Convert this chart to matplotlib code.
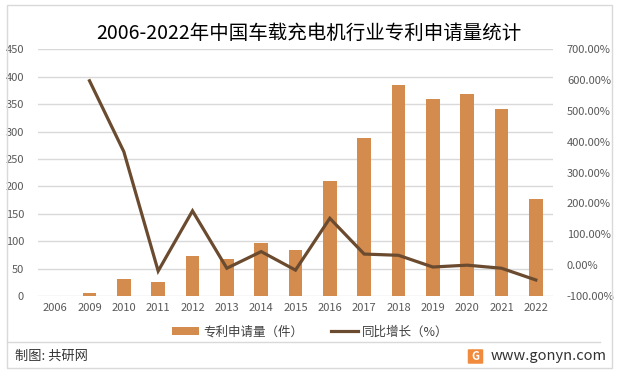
import matplotlib
matplotlib.use("Agg")
import matplotlib.pyplot as plt
from matplotlib.patches import Rectangle, Patch, FancyBboxPatch
from matplotlib.lines import Line2D
from matplotlib.ticker import FuncFormatter, MultipleLocator

plt.rcParams['font.family'] = ['Noto Sans CJK SC', 'DejaVu Sans']

years = ["2006", "2009", "2010", "2011", "2012", "2013", "2014", "2015",
         "2016", "2017", "2018", "2019", "2020", "2021", "2022"]
patents = [0, 6, 31, 26, 73, 68, 97, 83, 210, 288, 385, 360, 369, 341, 177]
growth_years = years[1:]
growth = [598, 368, -19, 176, -10, 44, -16, 152, 36, 32, -6, 0, -10, -48]

title = "2006-2022年中国车载充电机行业专利申请量统计"
bar_label = "专利申请量（件）"
line_label = "同比增长（%）"
source = "制图: 共研网"
site = "www.gonyn.com"

W, H = 617, 374
fig = plt.figure(figsize=(W / 100, H / 100), dpi=100)
fig.patch.set_facecolor("white")

def fx(px):
    return px / W

def fy(py):
    return 1 - py / H

bar_color = "#D48C4E"
line_color = "#6B4B2F"
grid_color = "#D9D9D9"
tick_color = "#595959"

ax = fig.add_axes([fx(38), fy(296), fx(553) - fx(38), fy(49.3) - fy(296)])
x = list(range(len(years)))
ax.bar(x, patents, width=0.39, color=bar_color, zorder=2)
ax.set_xlim(-0.5, len(years) - 0.5)
ax.set_ylim(0, 450)
ax.yaxis.set_major_locator(MultipleLocator(50))
ax.grid(axis="y", color=grid_color, linewidth=1, zorder=0)
ax.set_axisbelow(True)
for s in ax.spines.values():
    s.set_visible(False)
ax.set_xticks(x)
ax.set_xticklabels(years)
ax.tick_params(axis="both", length=0, labelsize=8, colors=tick_color, pad=5)
ax.tick_params(axis="y", pad=10)

ax2 = ax.twinx()
gx = [years.index(y) for y in growth_years]
ax2.plot(gx, growth, color=line_color, linewidth=2.3, solid_joinstyle="miter", zorder=3)
ax2.set_ylim(-100, 700)
ax2.yaxis.set_major_locator(MultipleLocator(100))
ax2.yaxis.set_major_formatter(FuncFormatter(lambda v, p: f"{v:.2f}%"))
for s in ax2.spines.values():
    s.set_visible(False)
ax2.tick_params(axis="y", length=0, labelsize=8, colors=tick_color, pad=10)

fig.text(0.5, fy(33), title, ha="center", va="center", fontsize=14, color="#000000")

handles = [Patch(facecolor=bar_color, edgecolor="none"),
           Line2D([0], [0], color=line_color, linewidth=2.3)]
fig.legend(handles, [bar_label, line_label], loc="center",
           bbox_to_anchor=(fx(310), fy(332)), ncol=2, frameon=False,
           fontsize=9, handlelength=2.2, handleheight=0.6, columnspacing=2.2,
           handletextpad=0.3, labelcolor="#404040")

# outer border and separator
fig.add_artist(Rectangle((fx(7), fy(368)), fx(612) - fx(7), fy(5) - fy(368),
                         transform=fig.transFigure, fill=False,
                         edgecolor=grid_color, linewidth=1))
fig.add_artist(Line2D([fx(7), fx(600)], [fy(342), fy(342)], transform=fig.transFigure,
                      color=grid_color, linewidth=1))

fig.text(fx(15), fy(356), source, ha="left", va="center", fontsize=9.5, color="#333333")
fig.add_artist(FancyBboxPatch((fx(469), fy(363)), fx(13), fy(350) - fy(363),
                              boxstyle="round,pad=0.002", transform=fig.transFigure,
                              facecolor="#F08A3C", edgecolor="none"))
fig.text(fx(475.5), fy(356.5), "G", ha="center", va="center", fontsize=8,
         color="white", fontweight="bold")
fig.text(fx(491), fy(356), site, ha="left", va="center", fontsize=10.5, color="#333333")

fig.savefig("out.png", dpi=100, facecolor="white")
